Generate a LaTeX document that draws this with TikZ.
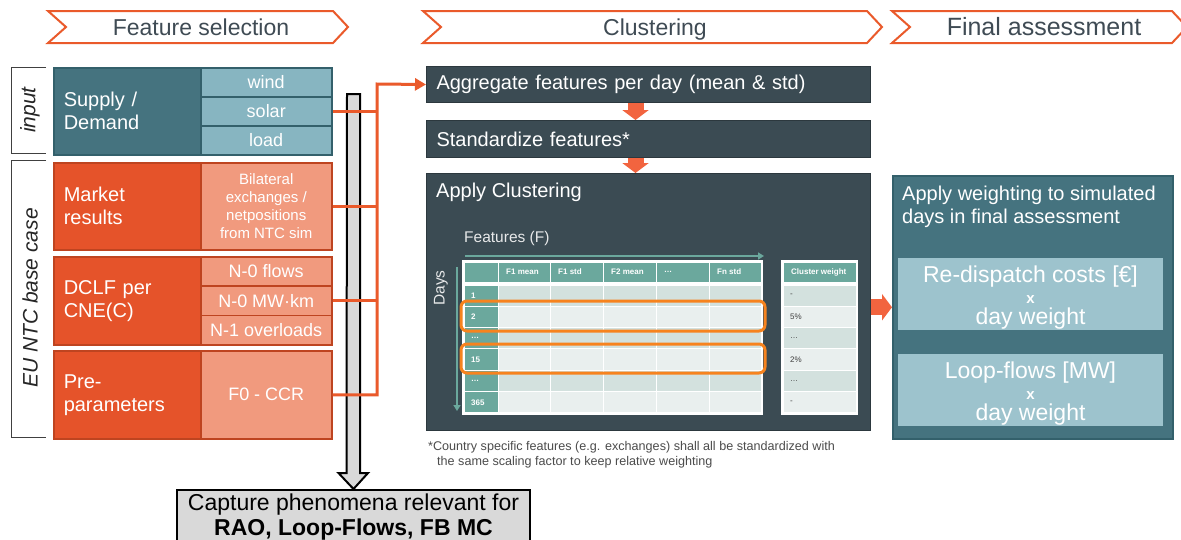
\documentclass[tikz,border=0pt]{standalone}
\usepackage{fontspec}
\setmainfont{Liberation Sans}
\usepackage{tikz}
\usetikzlibrary{arrows.meta,calc}

\definecolor{hdrline}{HTML}{EA5A2B}
\definecolor{hdrtext}{HTML}{3F4B54}
\definecolor{tealdark}{HTML}{45737F}
\definecolor{teallight}{HTML}{87B5C1}
\definecolor{tealedge}{HTML}{33606B}
\definecolor{orgdark}{HTML}{E5532A}
\definecolor{orglight}{HTML}{F19A7E}
\definecolor{orgedge}{HTML}{BE4420}
\definecolor{slate}{HTML}{3B4B53}
\definecolor{slateedge}{HTML}{2C383E}
\definecolor{feedline}{HTML}{EA5A2B}
\definecolor{blockorg}{HTML}{F2643F}
\definecolor{wtbox}{HTML}{9DC3CD}
\definecolor{tblteal}{HTML}{6BA89D}
\definecolor{rowdark}{HTML}{D3E1DE}
\definecolor{rowlight}{HTML}{E9EFEE}
\definecolor{pickorg}{HTML}{F7831E}
\definecolor{capgray}{HTML}{D9D9D9}

\begin{document}
\begin{tikzpicture}[x=1pt,y=-1pt,
  chevron/.style={draw=hdrline, line width=2pt, fill=white},
  hdr/.style={text=hdrtext, anchor=base, inner sep=0pt},
  bracket/.style={draw=black!75, line width=1pt},
  side/.style={rotate=90, font=\fontsize{21}{21}\selectfont\itshape, text=black!85},
  bigcell/.style={anchor=north west, minimum width=147pt, minimum height=87pt, text width=127pt,
    inner xsep=10pt, inner ysep=0pt, align=left, font=\fontsize{20}{23}\selectfont, text=white, line width=1.5pt},
  subcell/.style={anchor=north west, minimum width=131pt, minimum height=29pt, inner sep=0pt,
    align=center, font=\fontsize{18}{20}\selectfont, text=white, line width=1.5pt},
  stepbox/.style={anchor=north west, fill=slate, draw=slateedge, line width=1pt, minimum width=444pt,
    text width=424pt, inner xsep=10pt, align=left, font=\fontsize{20}{23}\selectfont, text=white},
  titletxt/.style={text=white, inner sep=0pt, align=left, font=\fontsize{20}{23}\selectfont},
  finalbox/.style={anchor=north west, fill=tealdark, draw=tealedge, line width=1.5pt,
    minimum width=280pt, minimum height=263pt},
  wtcell/.style={fill=wtbox, minimum width=265pt, minimum height=72pt, inner sep=0pt, align=center,
    text=white, font=\fontsize{23}{21}\selectfont},
  capbox/.style={anchor=north, fill=capgray, draw=black, line width=2pt, minimum width=353pt,
    align=center, inner ysep=4pt, font=\fontsize{23}{25}\selectfont},
  grayarr/.style={fill=capgray, draw=black, line width=2pt},
  feed/.style={feedline, line width=3pt},
  blockarr/.style={blockorg, line width=16pt, -{Triangle[length=10pt,width=26pt]}},
  axisarr/.style={tblteal, line width=2pt, -{Triangle[length=6pt,width=7pt]}},
  axislbl/.style={text=white!88!slate, inner sep=0pt, font=\fontsize{15.5}{16}\selectfont},
  cell/.style={draw=white, line width=1pt},
  thtxt/.style={anchor=west, inner sep=0pt, text=white, font=\fontsize{8}{9}\selectfont\bfseries},
  daytxt/.style={anchor=west, inner sep=0pt, text=white, font=\fontsize{8}{9}\selectfont\bfseries},
  wtxt/.style={anchor=west, inner sep=0pt, text=black!75, font=\fontsize{8}{9}\selectfont},
  pick/.style={draw=pickorg, line width=3pt, rounded corners=6pt},
  note/.style={anchor=north west, inner sep=0pt, align=left, text=black!70, font=\fontsize{12.6}{15}\selectfont}]

\clip[use as bounding box] (0,0) rectangle (1181,539);
\fill[white] (0,0) rectangle (1181,539);

% stage headers
\foreach \xa/\xb/\xc/\sz/\lbl [count=\i] in {48/333/201/23/Feature selection, 423/867/655/23/Clustering, 892/1172/1044/25/Final assessment}{
  \draw[chevron] (\xa,11) -- (\xb,11) -- (\xb+15,27) -- (\xb,43) -- (\xa,43) -- (\xa+18,27) -- cycle;
  \node[hdr, font=\fontsize{\sz}{\sz}\selectfont] (stage\i) at (\xc,35) {\lbl};
}

% side brackets
\draw[bracket] (46,67) -- (11,67) -- (11,153) -- (46,153);
\node[side] (inp) at (30,110) {input};
\draw[bracket] (46,160) -- (11,160) -- (11,437) -- (46,437);
\node[side] (eucase) at (30,298) {EU NTC base case};

% input data blocks
\node[bigcell, fill=tealdark, draw=tealedge] (supply) at (53,67) {Supply /\\Demand};
\node[subcell, fill=teallight, draw=tealedge] (wind) at (200,67) {wind};
\node[subcell, fill=teallight, draw=tealedge] (solar) at (200,96) {solar};
\node[subcell, fill=teallight, draw=tealedge] (load) at (200,125) {load};

\node[bigcell, fill=orgdark, draw=orgedge] (market) at (53,162) {Market\\results};
\node[subcell, fill=orglight, draw=orgedge, minimum height=87pt, font=\fontsize{15}{18}\selectfont] (bilat) at (200,162)
  {Bilateral\\exchanges /\\netpositions\\from NTC sim};

\node[bigcell, fill=orgdark, draw=orgedge, minimum height=88pt] (dclf) at (53,256) {DCLF per\\CNE(C)};
\node[subcell, fill=orglight, draw=orgedge, minimum height=29.33pt] (nflows) at (200,256) {N-0 flows};
\node[subcell, fill=orglight, draw=orgedge, minimum height=29.33pt] (nmwkm) at (200,285.33) {N-0 MW·km};
\node[subcell, fill=orglight, draw=orgedge, minimum height=29.33pt] (novl) at (200,314.67) {N-1 overloads};

\node[bigcell, fill=orgdark, draw=orgedge, minimum height=88pt] (prepar) at (53,350) {Pre-\\parameters};
\node[subcell, fill=orglight, draw=orgedge, minimum height=88pt] (fccr) at (200,350) {F0 - CCR};

% outcome box and the big gray arrow
\node[capbox] (capture) at (353.5,489) {Capture phenomena relevant for\\\textbf{RAO, Loop-Flows, FB MC}};
\coordinate (grtop) at (353.5,94);
\draw[grayarr] (grtop) ++(-6.5,0) -- ++(13,0) -- ($(capture.north)+(6.5,-16)$) -- ++(8,0)
  -- (capture.north) -- ++(-15,-16) -- ++(8,0) -- cycle;

% clustering steps
\node[stepbox, minimum height=36pt] (aggr) at (426,66) {Aggregate features per day (mean \& std)};
\node[stepbox, minimum height=37pt] (stdz) at (426,120) {Standardize features*};
\node[stepbox, minimum height=257pt] (clust) at (426,173) {};
\node[titletxt, anchor=west] (clusttl) at (436,192) {Apply Clustering};

% feeds into the first step
\coordinate (bus) at (377,84);
\draw[feed] (solar.east) -- (solar.east -| bus);
\draw[feed] (bilat.east) -- (bilat.east -| bus);
\draw[feed] (nmwkm.east) -- (nmwkm.east -| bus);
\draw[feed, -{Triangle[length=11pt,width=12pt]}] (fccr.east) -| (bus) -- (aggr.west);

\draw[blockarr] ([xshift=-13pt]aggr.south) -- ([xshift=-13pt]stdz.north);
\draw[blockarr] ([xshift=-13pt]stdz.south) -- ([xshift=-13pt]clust.north);

% feature table
\node[axislbl, anchor=west] (featlbl) at (464,238) {Features (F)};
\node[axislbl, rotate=90] (dayslbl) at (441,288) {Days};
\coordinate (fa) at (465,256);
\coordinate (fb) at (764,256);
\draw[axisarr] (fa) -- (fb);
\coordinate (da) at (457,267);
\coordinate (db) at (457,411);
\draw[axisarr] (da) -- (db);

\fill[white] (462,260) rectangle (763,415);
\fill[white] (781,260) rectangle (858,415);
\foreach \xa/\xb/\lbl [count=\i] in {464/498/{}, 498/550/F1 mean, 550/603/F1 std, 603/656/F2 mean, 656/709/\ldots, 709/761/Fn std, 783/856/Cluster weight}{
  \filldraw[cell, fill=tblteal] (\xa,262) rectangle (\xb,282);
  \node[thtxt] (th\i) at (\xa+8,272) {\lbl};
}
\foreach \dd/\ww [count=\i] in {1/-, 2/5\%, \ldots/\ldots, 15/2\%, \ldots/\ldots, 365/-}{
  \pgfmathsetmacro{\ya}{285+(\i-1)*21.33}
  \pgfmathsetmacro{\yb}{\ya+21.33}
  \ifodd\i\relax \def\rowc{rowdark}\else \def\rowc{rowlight}\fi
  \filldraw[cell, fill=tblteal] (464,\ya) rectangle (498,\yb);
  \foreach \xa/\xb in {498/550, 550/603, 603/656, 656/709, 709/761}
    \filldraw[cell, fill=\rowc] (\xa,\ya) rectangle (\xb,\yb);
  \filldraw[cell, fill=\rowc] (783,\ya) rectangle (856,\yb);
  \node[daytxt] (day\i) at (471,{(\ya+\yb)/2}) {\dd};
  \node[wtxt] (cw\i) at (790,{(\ya+\yb)/2}) {\ww};
}
\draw[pick] (461,301) rectangle (765,331);
\draw[pick] (461,344) rectangle (765,373);

\node[note] (fnote) at (428,441) {*Country specific features (e.g. exchanges) shall all be standardized with\\\hspace*{9pt}the same scaling factor to keep relative weighting};

% final assessment
\node[finalbox] (final) at (892,175) {};
\node[titletxt, anchor=north west] (fintl) at (902,186) {Apply weighting to simulated\\days in final assessment};
\node[wtcell] (rdcost) at (1030.5,294) {\rule{0pt}{24pt}Re-dispatch costs [€]\\{\fontsize{15}{21}\selectfont\bfseries x}\\day weight};
\node[wtcell] (lpflow) at (1030.5,390) {\rule{0pt}{24pt}Loop-flows [MW]\\{\fontsize{15}{21}\selectfont\bfseries x}\\day weight};

\draw[blockarr] (clust.east |- final.west) -- (final.west);

\end{tikzpicture}
\end{document}
